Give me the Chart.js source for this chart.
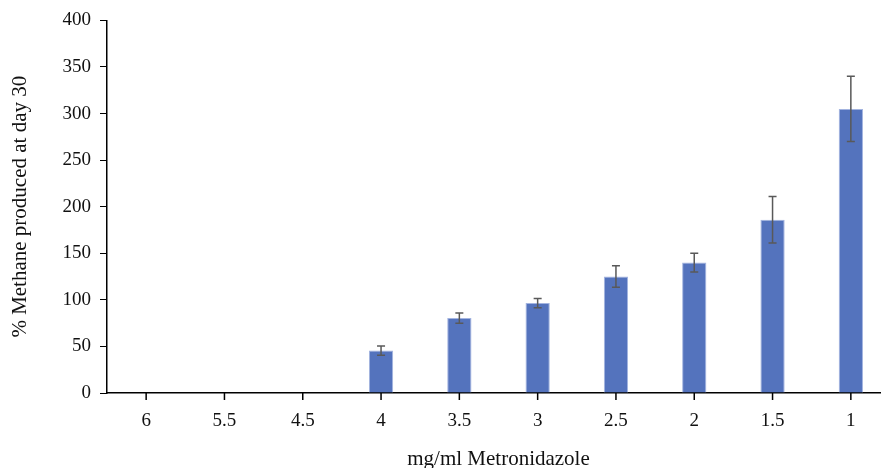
<!DOCTYPE html>
<html lang="en">
<head>
    <meta charset="UTF-8">
    <title>Methane vs Metronidazole</title>
    <script src="https://cdn.jsdelivr.net/npm/chart.js"></script>
    <style>
        html, body { margin: 0; padding: 0; background: #fff; overflow: hidden; }
        #wrap { width: 890px; height: 468px; }
    </style>
</head>
<body>
    <div id="wrap"><canvas id="methaneChart"></canvas></div>
    <script>
        // dose categories (mg/ml) and mean % methane with error
        const doses = ['6', '5.5', '4.5', '4', '3.5', '3', '2.5', '2', '1.5', '1'];
        const methane = [0, 0, 0, 45.5, 80.5, 96.5, 125, 140, 186, 305];
        const errors = [0, 0, 0, 5, 5.5, 5, 11.5, 10, 25, 35];
        const yTicks = [0, 50, 100, 150, 200, 250, 300, 350, 400];

        const serif = "'Liberation Serif', 'DejaVu Serif', serif";

        // error bars + x tick marks under each category
        const errorBars = {
            id: 'errorBars',
            afterDraw(chart) {
                const ctx = chart.ctx;
                const y = chart.scales.y;
                const x = chart.scales.x;
                const meta = chart.getDatasetMeta(0);
                ctx.save();
                const base = y.getPixelForValue(0);
                ctx.strokeStyle = '#000';
                ctx.lineWidth = 1.5;
                ctx.beginPath();
                doses.forEach((d, i) => {
                    const px = x.getPixelForValue(i);
                    ctx.moveTo(px, base); ctx.lineTo(px, base + 7);
                });
                ctx.stroke();
                ctx.strokeStyle = '#595959';
                meta.data.forEach((bar, i) => {
                    if (!errors[i]) return;
                    const top = y.getPixelForValue(methane[i] + errors[i]);
                    const bot = y.getPixelForValue(methane[i] - errors[i]);
                    ctx.beginPath();
                    ctx.moveTo(bar.x, top); ctx.lineTo(bar.x, bot);
                    ctx.moveTo(bar.x - 4, top); ctx.lineTo(bar.x + 4, top);
                    ctx.moveTo(bar.x - 4, bot); ctx.lineTo(bar.x + 4, bot);
                    ctx.stroke();
                });
                ctx.restore();
            }
        };

        new Chart(document.getElementById('methaneChart'), {
            type: 'bar',
            data: {
                labels: doses,
                datasets: [{
                    data: methane,
                    backgroundColor: '#5473BD',
                    borderColor: '#A3B4E0',
                    borderWidth: 1,
                    barPercentage: 0.31,
                    categoryPercentage: 1
                }]
            },
            options: {
                responsive: true,
                maintainAspectRatio: false,
                animation: false,
                layout: { padding: { top: 12, right: 0, left: 4, bottom: 0 } },
                plugins: { legend: { display: false }, tooltip: { enabled: false } },
                scales: {
                    x: {
                        grid: { display: false },
                        border: { display: true, color: '#000', width: 1.5 },
                        ticks: { color: '#111', font: { family: serif, size: 19 }, padding: 9, maxRotation: 0 },
                        title: { display: true, text: 'mg/ml Metronidazole', color: '#111', font: { family: serif, size: 21 }, padding: { top: 20, bottom: -4 } },
                        afterFit(scale) { scale.height = 75; }
                    },
                    y: {
                        min: 0, max: 400,
                        afterBuildTicks(scale) { scale.ticks = yTicks.map(v => ({ value: v })); },
                        grid: { display: true, drawOnChartArea: false, color: '#000', tickLength: 7 },
                        border: { color: '#000', width: 1.5 },
                        ticks: { color: '#111', font: { family: serif, size: 19 }, padding: 9 },
                        title: { display: true, text: '% Methane produced at day 30', color: '#111', font: { family: serif, size: 21 } },
                        afterFit(scale) { scale.width = 103; }
                    }
                }
            },
            plugins: [errorBars]
        });
    </script>
</body>
</html>
